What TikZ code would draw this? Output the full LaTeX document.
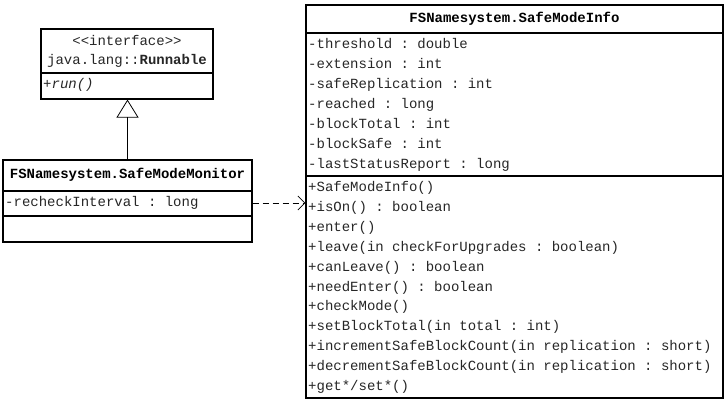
\documentclass[tikz,border=0pt]{standalone}
\usepackage{fontspec}
\setmonofont{Liberation Mono}
\usetikzlibrary{arrows.meta}

\begin{document}
\begin{tikzpicture}[
    x=1pt, y=-1pt,
    class box/.style={draw, line width=1.1pt, inner sep=0pt},
    separator/.style={line width=1.1pt},
    member/.style={anchor=west, inner sep=0pt, text=black!85, text height=10pt, text depth=3pt,
      font=\ttfamily\fontsize{14}{14}\selectfont},
    title/.style={inner sep=0pt, text height=10pt, text depth=3pt,
      font=\ttfamily\bfseries\fontsize{14}{14}\selectfont},
    realize/.style={-{Triangle[open, length=18pt, width=22pt]}, line width=0.8pt},
    depend/.style={dash pattern=on 6pt off 4pt, -{Straight Barb[length=7pt, width=14pt]}, line width=0.8pt}
    ]
    \useasboundingbox (0,0) rectangle (728,405);

    % class boxes
    \node[class box, minimum width=172pt, minimum height=70pt] (runnable) at (127,64) {};
    \node[class box, minimum width=249pt, minimum height=82pt] (monitor) at (127.5,201) {};
    \node[class box, minimum width=417pt, minimum height=393pt] (info) at (514.5,201.5) {};

    % compartments
    \coordinate (cut1) at (0,73);
    \coordinate (cut2) at (0,191);
    \coordinate (cut3) at (0,216);
    \coordinate (cut4) at (0,33);
    \coordinate (cut5) at (0,176);
    \draw[separator] (runnable.west |- cut1) -- (runnable.east |- cut1);
    \draw[separator] (monitor.west |- cut2) -- (monitor.east |- cut2);
    \draw[separator] (monitor.west |- cut3) -- (monitor.east |- cut3);
    \draw[separator] (info.west |- cut4) -- (info.east |- cut4);
    \draw[separator] (info.west |- cut5) -- (info.east |- cut5);

    % Runnable
    \node[member, anchor=center] (stereo) at (127,42) {<<interface>>};
    \node[member, anchor=center] (rname) at (127,61) {java.lang::\textbf{Runnable}};
    \node[member, font=\ttfamily\itshape\fontsize{14}{14}\selectfont] (run) at (43,85) {+run()};

    % SafeModeMonitor
    \node[title] (mname) at (127.5,175) {FSNamesystem.SafeModeMonitor};
    \node[member] (recheck) at (5,203) {-recheckInterval : long};

    % SafeModeInfo
    \node[title] (iname) at (514.5,19) {FSNamesystem.SafeModeInfo};
    \foreach \txt [count=\i from 0] in {{-threshold : double}, {-extension : int},
      {-safeReplication : int}, {-reached : long}, {-blockTotal : int},
      {-blockSafe : int}, {-lastStatusReport : long}}
      \node[member] (attr\i) at (308,45+20*\i) {\txt};
    \foreach \txt [count=\i from 0] in {{+SafeModeInfo()}, {+isOn() : boolean}, {+enter()},
      {+leave(in checkForUpgrades : boolean)}, {+canLeave() : boolean},
      {+needEnter() : boolean}, {+checkMode()}, {+setBlockTotal(in total : int)},
      {+incrementSafeBlockCount(in replication : short)},
      {+decrementSafeBlockCount(in replication : short)}, {+get*/set*()}}
      \node[member] (op\i) at (308,188+19.9*\i) {\txt};

    % relations
    \draw[realize] (monitor.north) -- (monitor.north |- runnable.south);
    \draw[depend] (monitor.east |- recheck) -- (info.west |- recheck);

\end{tikzpicture}
\end{document}
